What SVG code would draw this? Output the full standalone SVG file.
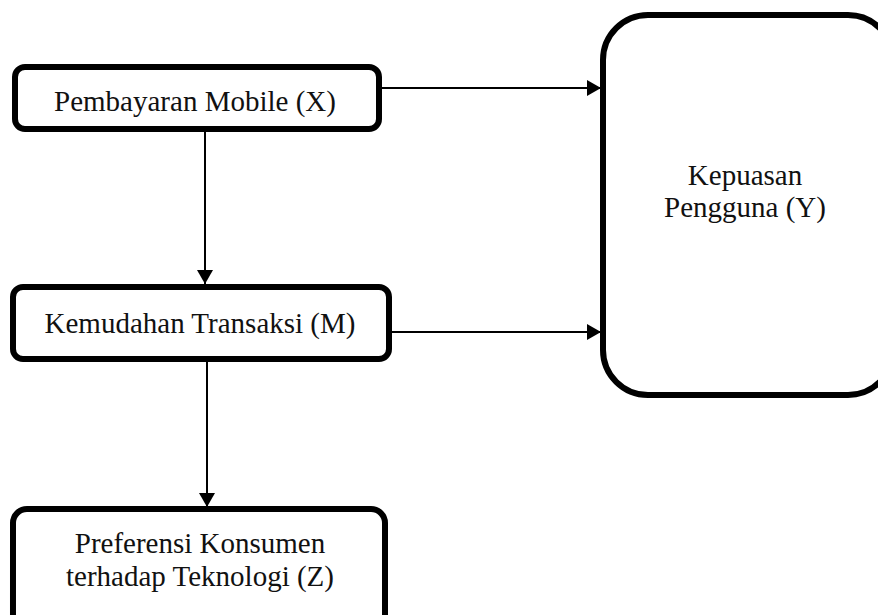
<svg xmlns="http://www.w3.org/2000/svg" width="878" height="615" viewBox="0 0 878 615">
<defs>
<style>
.box{fill:#fff;stroke:#000;stroke-width:6}
.t{font-family:"Liberation Serif","Times New Roman",serif;font-size:29px;fill:#111;text-anchor:middle}
.c{stroke:#000;stroke-width:2;fill:none;marker-end:url(#ah)}
</style>
<marker id="ah" markerWidth="14" markerHeight="16" refX="14" refY="8" orient="auto" markerUnits="userSpaceOnUse" viewBox="0 0 14 16">
<path d="M0,0 L14,8 L0,16 Z" fill="#000"/>
</marker>
</defs>
<g id="connectors">
<line class="c" x1="382" y1="88" x2="601" y2="88"/>
<line class="c" x1="392" y1="332" x2="601" y2="332"/>
<line class="c" x1="205" y1="132" x2="205" y2="284"/>
<line class="c" x1="207" y1="362" x2="207" y2="507"/>
</g>
<g id="nodeX">
<rect class="box" x="15" y="67" width="364" height="62" rx="10"/>
<text class="t" x="195" y="111">Pembayaran Mobile (X)</text>
</g>
<g id="nodeM">
<rect class="box" x="13" y="287" width="376" height="72" rx="10"/>
<text class="t" x="200" y="333">Kemudahan Transaksi (M)</text>
</g>
<g id="nodeZ">
<rect class="box" x="13" y="509" width="372" height="120" rx="14"/>
<text class="t" x="200" y="553">Preferensi Konsumen</text>
<text class="t" x="200" y="586">terhadap Teknologi (Z)</text>
</g>
<g id="nodeY">
<rect class="box" x="603" y="15" width="290" height="380" rx="45"/>
<text class="t" x="745" y="185">Kepuasan</text>
<text class="t" x="745" y="217">Pengguna (Y)</text>
</g>
</svg>
